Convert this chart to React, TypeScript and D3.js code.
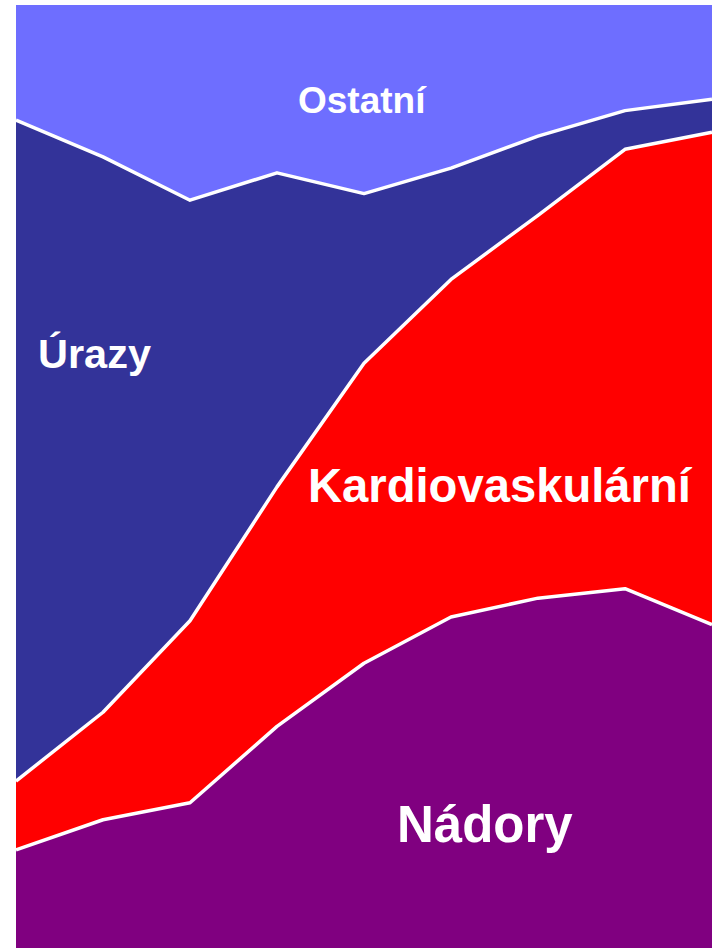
import React from "react";
import * as d3 from "d3";

const categories = ["1", "2", "3", "4", "5", "6", "7", "8", "9"];
const nadory = [10.4, 13.6, 15.4, 23.5, 30.2, 35.1, 37.1, 38.1, 34.3];
const kardio = [7.3, 11.4, 19.3, 25.4, 31.8, 35.8, 40.6, 46.6, 52.2];
const urazy = [70.1, 58.9, 44.6, 33.3, 18.0, 11.8, 8.4, 4.1, 3.5];
const ostatni = categories.map((_, i) => 100 - nadory[i] - kardio[i] - urazy[i]);

const seriesKeys = ["Nádory", "Kardiovaskulární", "Úrazy", "Ostatní"];
const seriesColors = ["#800080", "#FF0000", "#333399", "#6E6EFF"];

const W = 717;
const H = 948;

export default function App() {
  const rows = categories.map((c, i) => ({
    cat: c,
    "Nádory": nadory[i],
    "Kardiovaskulární": kardio[i],
    "Úrazy": urazy[i],
    "Ostatní": ostatni[i],
  }));
  const stack = d3.stack<any>().keys(seriesKeys);
  const layers = stack(rows);

  const x = d3.scalePoint<string>().domain(categories).range([16, 712]);
  const y = d3.scaleLinear().domain([0, 100]).range([948, 5]);

  const area = d3
    .area<any>()
    .x((d) => x(d.data.cat) as number)
    .y0((d) => y(d[0]))
    .y1((d) => y(d[1]));
  const line = d3
    .line<any>()
    .x((d) => x(d.data.cat) as number)
    .y((d) => y(d[1]));

  const font = "'Liberation Sans', Arial, Helvetica, sans-serif";

  return (
    <svg
      width={W}
      height={H}
      style={{ position: "absolute", left: 0, top: 0, background: "#fff" }}
    >
      {layers.map((l, i) => (
        <path key={l.key} d={area(l) as string} fill={seriesColors[i]} />
      ))}
      {layers.slice(0, 3).map((l) => (
        <path
          key={"l" + l.key}
          d={line(l) as string}
          fill="none"
          stroke="#fff"
          strokeWidth={3.5}
          strokeLinejoin="round"
        />
      ))}
      <g fill="#fff" fontFamily={font} fontWeight="bold">
        <text x={298} y={113} fontSize={37}>Ostatní</text>
        <text x={38} y={368} fontSize={41.5}>Úrazy</text>
        <text x={308} y={502} fontSize={47.2}>Kardiovaskulární</text>
        <text x={397} y={842} fontSize={51}>Nádory</text>
      </g>
    </svg>
  );
}
